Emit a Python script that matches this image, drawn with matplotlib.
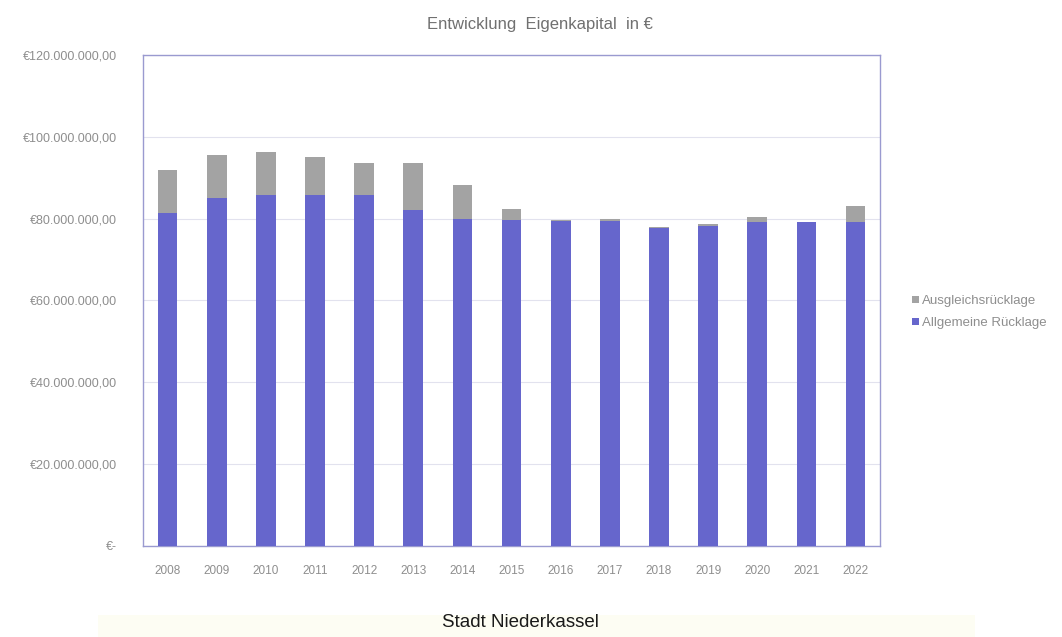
import matplotlib.pyplot as plt
from matplotlib.ticker import FuncFormatter, MultipleLocator
from matplotlib.patches import Rectangle

# Eigenkapital der Stadt Niederkassel in Mio. €
jahre = ["2008", "2009", "2010", "2011", "2012", "2013", "2014", "2015",
         "2016", "2017", "2018", "2019", "2020", "2021", "2022"]
allgemeine_ruecklage = [81.4, 85.1, 85.8, 85.8, 85.8, 82.2, 80.0, 79.7,
                        79.5, 79.5, 77.8, 78.2, 79.2, 79.2, 79.2]
ausgleichsruecklage = [10.5, 10.5, 10.5, 9.3, 7.8, 11.4, 8.3, 2.7,
                       0.2, 0.5, 0.1, 0.5, 1.2, 0.1, 3.9]

plt.rcParams["font.family"] = ["Liberation Sans", "DejaVu Sans"]

fig = plt.figure(figsize=(10.62, 6.37), dpi=100)
ax = fig.add_axes([0.1347, 0.1429, 0.694, 0.7708])

blau = "#6666cc"
grau = "#a3a3a3"
x = range(len(jahre))
werte_allg = [v * 1e6 for v in allgemeine_ruecklage]
werte_ausg = [v * 1e6 for v in ausgleichsruecklage]

ax.bar(x, werte_allg, width=0.4, color=blau, label="Allgemeine Rücklage", zorder=3)
ax.bar(x, werte_ausg, width=0.4, bottom=werte_allg, color=grau,
       label="Ausgleichsrücklage", zorder=3)

ax.set_xlim(-0.5, len(jahre) - 0.5)
ax.set_ylim(0, 120e6)
ax.yaxis.set_major_locator(MultipleLocator(20e6))


def euro(v, pos):
    if v == 0:
        return "€-"
    s = f"{v:,.2f}".replace(",", "X").replace(".", ",").replace("X", ".")
    return "€" + s


ax.yaxis.set_major_formatter(FuncFormatter(euro))
ax.set_xticks(list(x))
ax.set_xticklabels(jahre)
ax.tick_params(axis="y", length=0, pad=19, labelsize=9, labelcolor="#8e8e8e")
ax.tick_params(axis="x", length=0, pad=14, labelsize=8.5, labelcolor="#8e8e8e")

ax.grid(axis="y", color="#e2e2ee", linewidth=0.8, zorder=0)
for s in ax.spines.values():
    s.set_color("#9a9ad0")
    s.set_linewidth(1.0)

handles, labels = ax.get_legend_handles_labels()
leg = fig.legend(handles[::-1], labels[::-1], loc="center left",
                 bbox_to_anchor=(0.848, 0.51), frameon=False, fontsize=9.5,
                 handlelength=0.5, handleheight=0.5, handletextpad=0.25,
                 labelspacing=0.75)
for t in leg.get_texts():
    t.set_color("#8e8e8e")

fig.text(0.508, 0.962, "Entwicklung  Eigenkapital  in €", ha="center",
         va="center", fontsize=12, color="#707070")

# heller Streifen am unteren Rand
fig.patches.append(Rectangle((0.092, 0.0), 0.826, 0.035, transform=fig.transFigure,
                             facecolor="#fdfdf3", edgecolor="none", zorder=0))
fig.text(0.49, 0.023, "Stadt Niederkassel", ha="center", va="center",
         fontsize=13.5, color="#1a1a1a")

fig.savefig("out.png", dpi=100)
